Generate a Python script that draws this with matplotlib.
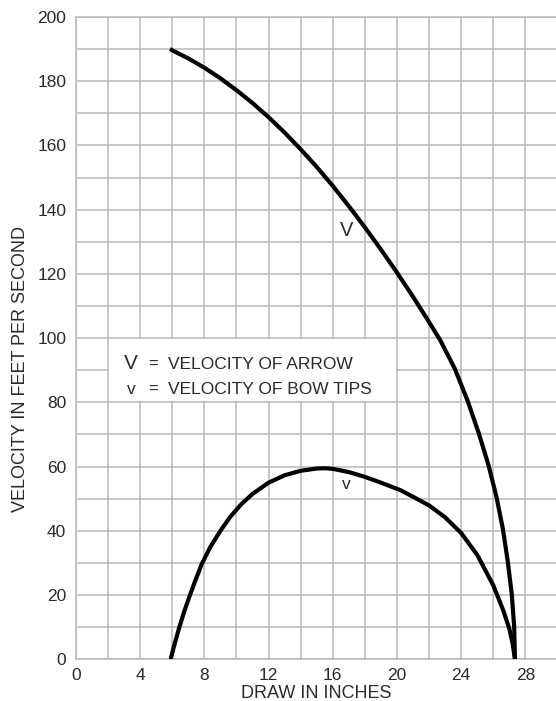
import matplotlib.pyplot as plt
from matplotlib.patches import Rectangle

# velocidad de la flecha (V)
draw_V = [5.85, 7, 8, 9, 10, 11, 12, 13, 14, 15, 16, 17, 18, 19, 20, 21, 22, 22.7,
          23.6, 24.4, 25.1, 25.7, 26.2, 26.6, 26.9, 27.15, 27.3, 27.35]
vel_V = [190, 187.1, 184.2, 180.9, 177.2, 173.2, 168.8, 164.0, 158.8, 153.3, 147.4, 141.1, 134.5, 127.6, 120.4, 112.9, 105, 99.3,
         90.5, 80.5, 70.3, 60.5, 50.5, 40.5, 30.5, 20.3, 10.2, 0]

# velocidad de las puntas del arco (v)
draw_v = [5.9, 6.1, 6.44, 6.75, 7.1, 7.45, 7.83, 8.35, 8.97, 9.6, 10.3, 11, 12, 13, 14, 15, 15.5,
          16, 17, 18, 19, 20.2, 21, 22, 23, 24, 25, 26, 26.6, 27, 27.2, 27.35]
vel_v = [0, 4, 10, 15, 20, 24.7, 29.6, 34.8, 39.8, 44.3, 48.3, 51.5, 55, 57.3, 58.7, 59.4, 59.5,
         59.3, 58.3, 56.8, 55, 52.7, 50.6, 47.9, 44.2, 39.3, 32.5, 23, 15.5, 9.5, 5, 0]

x_labels = [0, 4, 8, 12, 16, 20, 24, 28]
y_labels = [0, 20, 40, 60, 80, 100, 120, 140, 160, 180, 200]

plt.rcParams['font.family'] = ['Liberation Sans', 'DejaVu Sans']
txt = '#2a2a2a'
gris = '#b8b8b8'

fig = plt.figure(figsize=(5.56, 7.01), dpi=100)
ax = fig.add_axes([76/556, 1-659.3/701, 481.5/556, 642.3/701])

ax.set_xlim(0, 30)
ax.set_ylim(0, 200)
ax.set_xticks(x_labels)
ax.set_xticks(range(0, 31, 2), minor=True)
ax.set_yticks(y_labels)
ax.set_yticks(range(0, 201, 10), minor=True)
ax.grid(True, which='both', color=gris, lw=1.1, zorder=0)
ax.set_axisbelow(True)
ax.tick_params(which='both', length=0, labelsize=12.5, labelcolor=txt)
ax.tick_params(axis='x', pad=6)
ax.tick_params(axis='y', pad=7)
for sp in ax.spines.values():
    sp.set_color(gris)
    sp.set_linewidth(1.1)

# caja blanca de la leyenda
ax.add_patch(Rectangle((2.08, 80.35), 17.84, 19.3, facecolor='white', edgecolor='none', zorder=1))

ax.plot(draw_V, vel_V, color='black', lw=3, solid_capstyle='butt', solid_joinstyle='round', zorder=3)
ax.plot(draw_v, vel_v, color='black', lw=3, solid_capstyle='butt', solid_joinstyle='round', zorder=3)

ax.text(16.87, 133.6, 'V', fontsize=14.5, color=txt, ha='center', va='center', zorder=4)
ax.text(16.87, 54.5, 'v', fontsize=12.5, color=txt, ha='center', va='center', zorder=4)

ax.text(3.0, 90.3, 'V', fontsize=15, color=txt, ha='left', va='baseline', zorder=4)
ax.text(4.8, 90.3, '=', fontsize=12, color=txt, ha='center', va='baseline', zorder=4)
ax.text(5.73, 90.3, 'VELOCITY OF ARROW', fontsize=12.5, color=txt, ha='left', va='baseline', zorder=4)
ax.text(3.2, 82.5, 'v', fontsize=12.5, color=txt, ha='left', va='baseline', zorder=4)
ax.text(4.8, 82.5, '=', fontsize=12, color=txt, ha='center', va='baseline', zorder=4)
ax.text(5.73, 82.5, 'VELOCITY OF BOW TIPS', fontsize=12.5, color=txt, ha='left', va='baseline', zorder=4)

fig.text(316.7/556, 1-693/701, 'DRAW IN INCHES', fontsize=13, color=txt, ha='center', va='center')
fig.text(20.5/556, 1-369/701, 'VELOCITY IN FEET PER SECOND', fontsize=13, color=txt,
         ha='center', va='center', rotation=90)

fig.savefig('out.png', dpi=100)
